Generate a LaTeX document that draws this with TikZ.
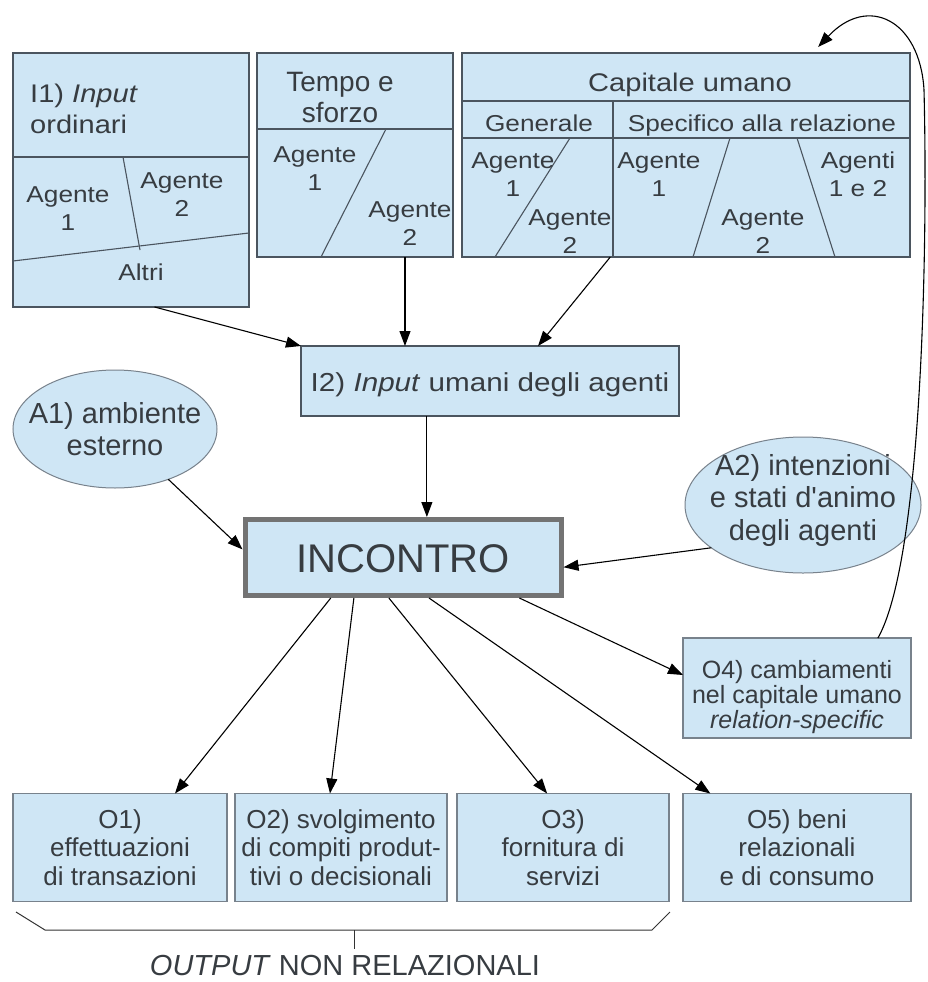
\documentclass[tikz,border=0pt]{standalone}
\usepackage{fontspec}
\setmainfont{Liberation Sans}
\newfontfamily\widefont{Liberation Sans}[FakeStretch=1.14]
\newfontfamily\straightfont{Liberation Sans}[Ligatures=TeXOff]
\usetikzlibrary{arrows.meta,calc,shapes.geometric}
\definecolor{boxfill}{RGB}{207,230,245}
\definecolor{boxline}{RGB}{75,85,95}
\definecolor{softline}{RGB}{120,130,140}
\definecolor{txt}{RGB}{55,60,65}
\definecolor{thickline}{RGB}{115,115,115}
\newcommand\ml[2][c]{\begin{tabular}[t]{@{}#1@{}}#2\end{tabular}}
\newcommand\fs[2]{\fontsize{#1}{#2}\selectfont}
\begin{document}
\begin{tikzpicture}[x=1pt,y=-1pt,
  box/.style={draw=boxline, fill=boxfill, line width=1.2pt, inner sep=0pt, outer sep=0pt},
  obox/.style={draw=softline, fill=boxfill, line width=1.2pt, inner sep=0pt, outer sep=0pt, minimum width=212pt, minimum height=108pt},
  ell/.style={ellipse, draw=softline, fill=boxfill, line width=1pt, inner sep=0pt, outer sep=0pt},
  lab/.style={text=txt, inner sep=0pt, anchor=base},
  agt/.style={lab, font=\widefont\fs{23}{28}},
  conn/.style={-{Triangle[length=15pt,width=11pt]}, line width=1.1pt, black},
  div/.style={draw=boxline, line width=1.1pt},
  brace/.style={draw=black!80, line width=1pt}]
\fill[white] (0,0) rectangle (927,982);
\useasboundingbox (0,0) rectangle (927,982);

% ---- I1 box
\node[box, minimum width=236pt, minimum height=254pt] (I1) at (131,180) {};
\draw[div] (13,157) -- (249,157);
\draw[div] (123,157) -- (140,250);
\draw[div] (13,261) -- (249,233);
\node[lab, anchor=base west, font=\widefont\fs{25.5}{31.5}] (I1t) at (30,102) {\ml[l]{I1) \textit{Input}\\ordinari}};
\node[agt] (I1a1) at (68,202) {\ml{Agente\\1}};
\node[agt] (I1a2) at (182,188) {\ml{Agente\\2}};
\node[agt] (I1al) at (141,280) {Altri};

% ---- Tempo e sforzo box
\node[box, minimum width=196pt, minimum height=204pt] (T) at (355,155) {};
\draw[div] (257,129) -- (453,129);
\draw[div] (386,129) -- (321,257);
\node[lab, font=\fs{28}{31}] (Tt) at (340,92) {\ml{Tempo e\\sforzo}};
\node[agt] (Ta1) at (315,162) {\ml{Agente\\1}};
\node[agt] (Ta2) at (410,217) {\ml{Agente\\2}};

% ---- Capitale umano box
\node[box, minimum width=448pt, minimum height=204pt] (C) at (686,155) {};
\draw[div] (462,101) -- (910,101);
\draw[div] (462,138) -- (910,138);
\draw[div] (613,101) -- (613,257);
\draw[div] (570,138) -- (495,257);
\draw[div] (730,138) -- (693,257);
\draw[div] (797,138) -- (835,257);
\node[lab, font=\widefont\fs{25.5}{30}] (Ct) at (690,92) {Capitale umano};
\node[lab, font=\widefont\fs{23}{28}] (Cg) at (539,131) {Generale};
\node[lab, font=\widefont\fs{23}{28}] (Cs) at (762,131) {Specifico alla relazione};
\node[agt] (Cga1) at (513,168) {\ml{Agente\\1}};
\node[agt] (Cga2) at (570,225) {\ml{Agente\\2}};
\node[agt] (Csa1) at (659,168) {\ml{Agente\\1}};
\node[agt] (Csa2) at (763,225) {\ml{Agente\\2}};
\node[agt] (Csa12) at (858,168) {\ml{Agenti\\1 e 2}};

% ---- I2
\node[box, minimum width=378pt, minimum height=70pt] (I2) at (490,381) {};
\node[lab, font=\widefont\fs{26}{30}] (I2t) at (490,391) {I2) \textit{Input} umani degli agenti};

% ---- ellipses
\node[ell, minimum width=204pt, minimum height=118pt] (A1) at (115,429) {};
\node[lab, font=\fs{29}{32}] (A1t) at (115,423) {\ml{A1) ambiente\\esterno}};
\node[ell, minimum width=236pt, minimum height=136pt] (A2) at (803,505) {};
\node[lab, font=\straightfont\fs{29}{32.5}] (A2t) at (803,475) {\ml{A2) intenzioni\\e stati d'animo\\degli agenti}};

% ---- INCONTRO
\node[draw=thickline, fill=boxfill, line width=5pt, inner sep=0pt, outer sep=2.5pt,
      minimum width=316pt, minimum height=76pt] (INC) at (403,557.5) {};
\node[lab, font=\fs{40}{44}] (INCt) at (403,572) {INCONTRO};

% ---- O4
\node[box, draw=softline, minimum width=228pt, minimum height=100pt] (O4) at (797,688) {};
\node[lab, font=\fs{25}{24}] (O4t) at (797,678) {\ml{O4) cambiamenti\\nel capitale umano\\\textit{relation-specific}}};

% ---- bottom outputs
\node[obox, minimum width=214pt] (O1) at (120,847.5) {};
\node[obox] (O2) at (341,847.5) {};
\node[obox] (O3) at (563,847.5) {};
\node[obox, minimum width=228pt] (O5) at (797,847.5) {};
\node[lab, font=\fs{26}{28.5}] (O1t) at (120,828) {\ml{O1)\\effettuazioni\\di transazioni}};
\node[lab, font=\fs{26}{28.5}] (O2t) at (341,828) {\ml{O2) svolgimento\\di compiti produt-\\tivi o decisionali}};
\node[lab, font=\fs{26}{28.5}] (O3t) at (563,828) {\ml{O3)\\fornitura di\\servizi}};
\node[lab, font=\fs{26}{28.5}] (O5t) at (797,828) {\ml{O5) beni\\relazionali\\e di consumo}};

% ---- brace
\coordinate (brL) at (16,912);
\coordinate (brLc) at (45,930);
\coordinate (brRc) at (652,930);
\coordinate (brR) at (670,912);
\coordinate (brM) at (354,930);
\coordinate (brT) at (354,949);
\draw[brace] (brL) -- (brLc) -- (brRc) -- (brR);
\draw[brace] (brM) -- (brT);
\node[lab, font=\fs{29}{32}] (OUT) at (345,975) {\textit{OUTPUT} NON RELAZIONALI};

% ---- connectors
\coordinate (I1s) at ($(I1.south west)!0.6!(I1.south east)$);
\draw[conn] (I1s) -- (I2.north west);
\coordinate (Tsx) at ($(T.south west)!0.755!(T.south east)$);
\draw[conn] (Tsx) -- (Tsx |- I2.north);
\coordinate (Csx) at ($(C.south west)!0.331!(C.south east)$);
\draw[conn] (Csx) -- ($(I2.north west)!0.627!(I2.north east)$);
\coordinate (I2s) at ($(I2.south west)!0.333!(I2.south east)$);
\draw[conn] (I2s) -- (I2s |- INC.north);
\draw[conn] (A1) -- ($(INC.north west)!0.4!(INC.south west)$);
\draw[conn] (A2.205) -- ($(INC.north east)!0.62!(INC.south east)$);
\draw[conn] ($(INC.south west)!0.275!(INC.south east)$) -- ($(O1.north west)!0.757!(O1.north east)$);
\draw[conn] ($(INC.south west)!0.347!(INC.south east)$) -- ($(O2.north west)!0.448!(O2.north east)$);
\draw[conn] ($(INC.south west)!0.456!(INC.south east)$) -- ($(O3.north west)!0.425!(O3.north east)$);
\draw[conn] ($(INC.south west)!0.581!(INC.south east)$) -- ($(O5.north west)!0.12!(O5.north east)$);
\draw[conn] ($(INC.south west)!0.8625!(INC.south east)$) -- ($(O4.north west)!0.37!(O4.south west)$);
\coordinate (fbS) at ($(O4.north west)!0.855!(O4.north east)$);
\coordinate (fbT) at ($(C.north west)!0.795!(C.north east)$);
\draw[conn] (fbS) .. controls (922,560) and (928,250) .. (924,90)
                  .. controls (920,20) and (868,-6) .. ([yshift=6pt]fbT);
\end{tikzpicture}
\end{document}
